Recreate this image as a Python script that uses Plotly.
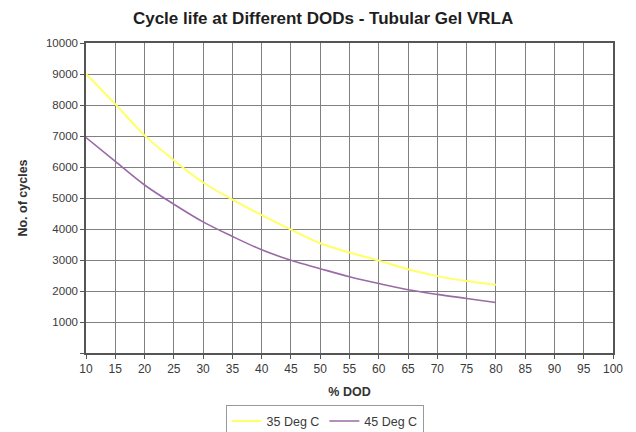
import plotly.graph_objects as go

dod = [10, 15, 20, 25, 30, 35, 40, 45, 50, 55, 60, 65, 70, 75, 80]
cycles_35 = [9000, 8030, 7020, 6220, 5500, 4950, 4450, 3980, 3540, 3240, 2980, 2700, 2480, 2320, 2200]
cycles_45 = [6950, 6180, 5420, 4800, 4230, 3760, 3330, 2990, 2720, 2460, 2240, 2040, 1890, 1760, 1630]

x_ticks = list(range(10, 101, 5))
y_ticks = list(range(0, 10001, 1000))
y_tick_labels = [""] + [str(v) for v in y_ticks[1:]]

font = "Liberation Sans, Arial, sans-serif"

fig = go.Figure()
fig.add_trace(go.Scatter(x=dod, y=cycles_35, mode="lines", name="35 Deg C",
                         line=dict(color="#ffff66", width=2, shape="spline")))
fig.add_trace(go.Scatter(x=dod, y=cycles_45, mode="lines", name="45 Deg C",
                         line=dict(color="#9a6aa6", width=1.6, shape="spline")))

fig.update_layout(
    width=636, height=432,
    margin=dict(l=86, r=23, t=43, b=79, autoexpand=False),
    paper_bgcolor="white", plot_bgcolor="white",
    font=dict(family=font, size=12, color="#3a3a3a"),
    title=dict(text="<b>Cycle life at Different DODs - Tubular Gel VRLA</b>",
               x=0.508, xanchor="center", xref="container",
               y=0.958, yanchor="middle", yref="container",
               font=dict(size=17, color="#1e1e1e")),
    showlegend=True,
    legend=dict(orientation="h", x=0.4526, xanchor="center", y=-0.169, yanchor="top",
                bordercolor="#999999", borderwidth=1, bgcolor="white",
                font=dict(size=12.5, color="#3a3a3a"),
                itemwidth=30, tracegroupgap=0),
)
fig.update_xaxes(
    range=[10, 100], tickmode="array", tickvals=x_ticks,
    showgrid=True, gridcolor="#808080", gridwidth=1.2,
    showline=True, linecolor="#555555", linewidth=1.5, mirror=True,
    ticks="outside", ticklen=4, tickcolor="#555555",
    zeroline=False, automargin=False,
    tickfont=dict(size=12),
    title=dict(text="<b>% DOD</b>", font=dict(size=12.5, color="#333333"), standoff=12),
)
fig.update_yaxes(
    range=[0, 10000], tickmode="array", tickvals=y_ticks, ticktext=y_tick_labels,
    showgrid=True, gridcolor="#808080", gridwidth=1.2,
    showline=True, linecolor="#555555", linewidth=1.5, mirror=True,
    ticks="outside", ticklen=4, tickcolor="#555555",
    zeroline=False, automargin=False,
    tickfont=dict(size=11.5),
    title=dict(text="<b>No. of cycles</b>", font=dict(size=12.5, color="#333333"), standoff=16),
)

fig.write_html("out.html", config={"displayModeBar": False},
               post_script="document.body.style.margin='0';document.body.style.overflow='hidden';")
